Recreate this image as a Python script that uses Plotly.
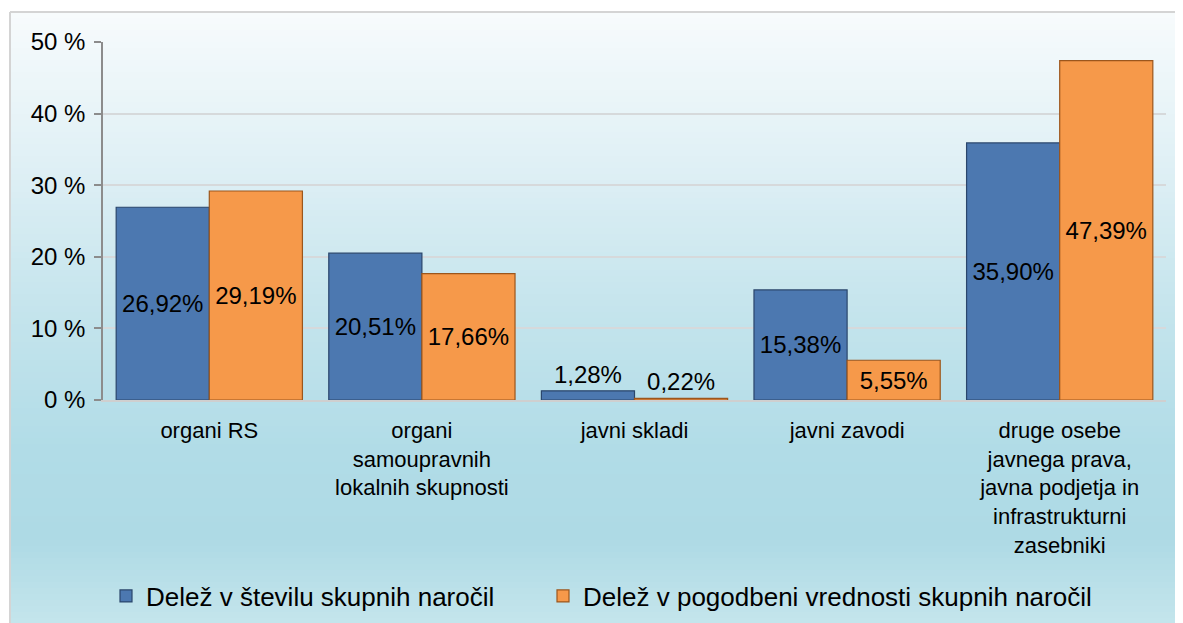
import plotly.graph_objects as go

categories = [
    "organi RS",
    "organi<br>samoupravnih<br>lokalnih skupnosti",
    "javni skladi",
    "javni zavodi",
    "druge osebe<br>javnega prava,<br>javna podjetja in<br>infrastrukturni<br>zasebniki",
]
share_count = [26.92, 20.51, 1.28, 15.38, 35.90]
share_value = [29.19, 17.66, 0.22, 5.55, 47.39]
series_names = ["Delež v številu skupnih naročil", "Delež v pogodbeni vrednosti skupnih naročil"]
y_ticks = [0, 10, 20, 30, 40, 50]
y_ticklabels = ["0 %", "10 %", "20 %", "30 %", "40 %", "50 %"]


def fmt(v):
    return f"{v:.2f}%".replace(".", ",")


# page has an 8px body margin; work in reference page pixels and shift
OFF = 8
W, H = 1183 - OFF, 623 - OFF
L, R, T, B = 103 - OFF, 17, 42 - OFF, 223
PW = W - L - R
PH = H - T - B


def px_to_paper_x(px):  # px in reference page coordinates
    return (px - OFF - L) / PW


def px_to_paper_y(py):
    return (H - B - (py - OFF)) / PH


FONT = "Arial, Liberation Sans, sans-serif"
LBL = 24

fig = go.Figure()
fig.add_trace(go.Bar(
    x=categories, y=share_count, name=series_names[0], legend="legend",
    text=[fmt(v) for v in share_count], textposition="auto",
    insidetextanchor="middle", constraintext="none",
    textfont=dict(color="black", size=LBL, family=FONT),
    insidetextfont=dict(color="black", size=LBL, family=FONT),
    outsidetextfont=dict(color="black", size=LBL, family=FONT),
    marker=dict(color="#4c78b0", line=dict(color="#2a466c", width=1.2)),
    cliponaxis=False,
))
fig.add_trace(go.Bar(
    x=categories, y=share_value, name=series_names[1], legend="legend2",
    text=[fmt(v) for v in share_value], textposition="auto",
    insidetextanchor="middle", constraintext="none",
    textfont=dict(color="black", size=LBL, family=FONT),
    insidetextfont=dict(color="black", size=LBL, family=FONT),
    outsidetextfont=dict(color="black", size=LBL, family=FONT),
    marker=dict(color="#f6994a", line=dict(color="#9c561c", width=1.2)),
    cliponaxis=False,
))

# background gradient (chart area)
stops = [
    (12, (247, 251, 252)),
    (150, (226, 241, 246)),
    (300, (198, 229, 237)),
    (450, (177, 220, 231)),
    (540, (174, 218, 229)),
    (623, (196, 229, 236)),
]


def color_at(py):
    for (y0, c0), (y1, c1) in zip(stops[:-1], stops[1:]):
        if y0 <= py <= y1:
            t = (py - y0) / (y1 - y0)
            return tuple(round(a + (b - a) * t) for a, b in zip(c0, c1))
    return stops[-1][1]


shapes = []
step = 6
py = 12
while py < 623:
    py2 = min(py + step, 625)
    c = color_at((py + py2) / 2)
    shapes.append(dict(
        type="rect", xref="paper", yref="paper", layer="below",
        x0=px_to_paper_x(10), x1=px_to_paper_x(1185),
        y0=px_to_paper_y(py2 + 0.5), y1=px_to_paper_y(py),
        line=dict(width=0), fillcolor=f"rgb{c}",
    ))
    py = py2
# frame border (left and top)
shapes.append(dict(type="line", xref="paper", yref="paper", layer="below",
                   x0=px_to_paper_x(10), x1=px_to_paper_x(1185),
                   y0=px_to_paper_y(12), y1=px_to_paper_y(12),
                   line=dict(color="#d4d4d4", width=2)))
shapes.append(dict(type="line", xref="paper", yref="paper", layer="below",
                   x0=px_to_paper_x(10), x1=px_to_paper_x(10),
                   y0=px_to_paper_y(12), y1=px_to_paper_y(625),
                   line=dict(color="#d4d4d4", width=2)))

legend_common = dict(
    orientation="h", xanchor="left", yanchor="middle",
    y=px_to_paper_y(596),
    font=dict(size=26, family=FONT, color="black"),
    bgcolor="rgba(0,0,0,0)", itemwidth=30,
)

fig.update_layout(
    width=W, height=H,
    margin=dict(l=L, r=R, t=T, b=B, pad=0, autoexpand=False),
    paper_bgcolor="white",
    plot_bgcolor="rgba(0,0,0,0)",
    barmode="group", bargap=0.124, bargroupgap=0,
    font=dict(family=FONT, size=22, color="black"),
    shapes=shapes,
    showlegend=True,
    legend=dict(x=px_to_paper_x(106), **legend_common),
    legend2=dict(x=px_to_paper_x(543), **legend_common),
    xaxis=dict(
        showline=True, linecolor="#cfcfcf", linewidth=1.5,
        ticks="", tickfont=dict(size=22, family=FONT, color="black"),
        showgrid=False, fixedrange=True, ticklabelstandoff=10,
    ),
    yaxis=dict(
        range=[0, 50], tickvals=y_ticks, ticktext=y_ticklabels,
        showline=True, linecolor="#8c8c8c", linewidth=1.5,
        ticks="outside", ticklen=7, tickcolor="#8c8c8c", tickwidth=1.5,
        showgrid=True, gridcolor="#d6d9db", gridwidth=1.5,
        zeroline=False,
        tickfont=dict(size=24, family=FONT, color="black"),
        ticklabelstandoff=4,
    ),
)

fig.write_html("out.html")
